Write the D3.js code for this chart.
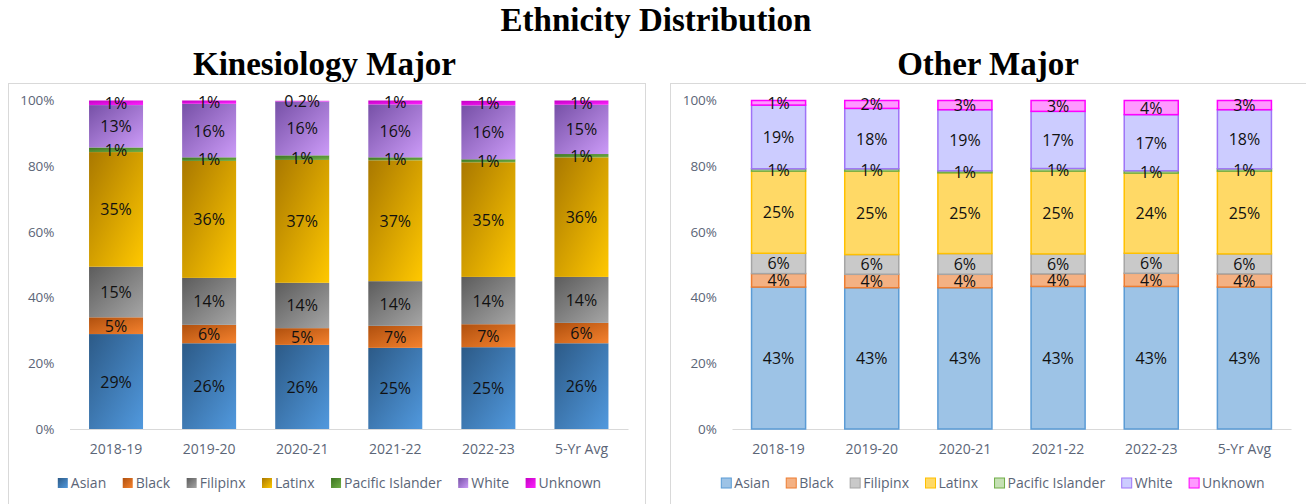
<!DOCTYPE html>
<html>
<head>
<meta charset="utf-8">
<script src="https://cdn.jsdelivr.net/npm/d3@7"></script>
<style>
  body { margin: 0; background: #fff; }
  svg { display: block; }
</style>
</head>
<body>
<div id="chart"></div>
<script>
// categories + series
const years = ["2018-19", "2019-20", "2020-21", "2021-22", "2022-23", "5-Yr Avg"];
const groups = ["Asian", "Black", "Filipinx", "Latinx", "Pacific Islander", "White", "Unknown"];
const yTicks = [0, 0.2, 0.4, 0.6, 0.8, 1];

// Kinesiology major, percent of students
const kinAsian    = [28.9, 26.1, 25.6, 24.7, 24.9, 26.1];
const kinBlack    = [5.1, 5.6, 5.1, 6.7, 7.0, 6.2];
const kinFilipinx = [15.4, 14.3, 13.8, 13.6, 14.4, 14.0];
const kinLatinx   = [34.9, 35.6, 37.4, 36.8, 34.9, 36.4];
const kinPacific  = [1.4, 1.1, 1.4, 0.9, 0.9, 1.0];
const kinWhite    = [12.9, 16.3, 16.4, 16.1, 16.4, 15.0];
const kinUnknown  = [1.4, 1.0, 0.2, 1.2, 1.4, 1.3];

// other majors, percent of students
const othAsian    = [43.2, 43.0, 43.0, 43.4, 43.4, 43.2];
const othBlack    = [4.1, 4.1, 4.1, 3.8, 4.0, 4.0];
const othFilipinx = [6.2, 6.0, 6.3, 6.1, 6.1, 6.1];
const othLatinx   = [25.0, 25.4, 24.6, 25.2, 24.4, 25.2];
const othPacific  = [0.7, 0.7, 0.6, 0.8, 0.7, 0.7];
const othWhite    = [19.4, 18.4, 18.6, 17.4, 17.1, 18.0];
const othUnknown  = [1.4, 2.4, 2.8, 3.3, 4.3, 2.8];

const width = 1306, height = 504;

// gradient ends for the left chart (dark top-left -> light bottom-right)
const gradDark  = ["#2c5a87", "#b0500e", "#5c5c5c", "#a97800", "#3b7420", "#7650a6", "#c400c4"];
const gradLight = ["#5199de", "#f5822e", "#a6a6a6", "#ffc800", "#72b048", "#cc9bf8", "#ff22ff"];
// flat fills for the right chart
const flatFill   = ["#9dc3e6", "#f4b183", "#c9c9c9", "#ffd966", "#c5e0b4", "#ccccff", "#ff99ff"];
const flatStroke = ["#5b9bd5", "#ed7d31", "#a5a5a5", "#ffc000", "#70ad47", "#9f73f7", "#ff00ff"];

const svg = d3.select("#chart").append("svg")
  .attr("width", width)
  .attr("height", height)
  .style("font-family", "'Open Sans', sans-serif");

const defs = svg.append("defs");
groups.forEach((g, i) => {
  const lg = defs.append("linearGradient")
    .attr("id", "grad-" + i)
    .attr("x1", 0).attr("y1", 0).attr("x2", 1).attr("y2", 1);
  lg.append("stop").attr("offset", "0%").attr("stop-color", gradDark[i]);
  lg.append("stop").attr("offset", "100%").attr("stop-color", gradLight[i]);
});

svg.append("text")
  .attr("x", 656).attr("y", 31)
  .attr("text-anchor", "middle")
  .style("font-family", "'Liberation Serif', serif")
  .style("font-weight", "bold")
  .style("font-size", "33px")
  .text("Ethnicity Distribution");

const pctFmt = v => v < 0.005 ? d3.format(".1%")(v) : d3.format(".0%")(v);

function buildRows(series) {
  return years.map((yr, i) => {
    const row = { year: yr };
    groups.forEach((g, j) => { row[g] = series[j][i] / 100; });
    return row;
  });
}

function drawPanel(opt) {
  const rows = buildRows(opt.series);
  const stack = d3.stack().keys(groups)(rows);

  const g = svg.append("g");

  // panel frame
  g.append("rect")
    .attr("x", opt.boxX + 0.5).attr("y", 83.5)
    .attr("width", opt.boxW).attr("height", 440)
    .attr("fill", "none")
    .attr("stroke", "#d9d9d9");

  g.append("text")
    .attr("x", opt.boxX + opt.boxW / 2 - 2).attr("y", 75)
    .attr("text-anchor", "middle")
    .style("font-family", "'Liberation Serif', serif")
    .style("font-weight", "bold")
    .style("font-size", "33px")
    .text(opt.title);

  const x = d3.scaleBand()
    .domain(years)
    .range([opt.plotX0, opt.plotX1])
    .paddingInner(0.42)
    .paddingOuter(0.21);

  const y = d3.scaleLinear().domain([0, 1]).range([429, 100.5]);

  // y axis labels only
  const yAxis = g.append("g")
    .attr("transform", `translate(${opt.plotX0},0)`)
    .call(d3.axisLeft(y).tickValues(yTicks).tickFormat(d3.format(".0%")).tickSize(0).tickPadding(15));
  yAxis.select(".domain").remove();
  yAxis.selectAll("text")
    .style("font-family", "'Open Sans', sans-serif")
    .style("font-size", "13.5px")
    .attr("fill", "#5b6577");

  // x axis with baseline
  const xAxis = g.append("g")
    .attr("transform", "translate(0,429)")
    .call(d3.axisBottom(x).tickSize(0).tickPadding(15));
  xAxis.select(".domain").attr("stroke", "#d9d9d9");
  xAxis.selectAll("text")
    .style("font-family", "'Open Sans', sans-serif")
    .style("font-size", "14px")
    .attr("fill", "#5b6577");

  const layers = g.append("g").selectAll("g")
    .data(stack)
    .join("g");

  layers.selectAll("rect")
    .data(d => d.map(p => ({ p, key: d.key, idx: d.index })))
    .join("rect")
    .attr("x", d => x(d.p.data.year))
    .attr("y", d => y(d.p[1]))
    .attr("width", x.bandwidth())
    .attr("height", d => y(d.p[0]) - y(d.p[1]))
    .attr("fill", d => opt.gradient ? `url(#grad-${d.idx})` : flatFill[d.idx])
    .attr("stroke", d => opt.gradient ? "none" : flatStroke[d.idx])
    .attr("stroke-width", 1.5);

  // data labels
  const labels = g.append("g");
  stack.forEach(layer => {
    layer.forEach(p => {
      labels.append("text")
        .attr("x", x(p.data.year) + x.bandwidth() / 2)
        .attr("y", y((p[0] + p[1]) / 2))
        .attr("text-anchor", "middle")
        .attr("dominant-baseline", "central")
        .style("font-size", "16px")
        .attr("fill", "#111")
        .text(pctFmt(p[1] - p[0]));
    });
  });

  // legend
  const leg = g.append("g");
  const items = leg.selectAll("g").data(groups).join("g");
  items.append("rect")
    .attr("width", 10).attr("height", 10)
    .attr("y", 478)
    .attr("fill", (d, i) => opt.gradient ? `url(#grad-${i})` : flatFill[i])
    .attr("stroke", (d, i) => opt.gradient ? "none" : flatStroke[i])
    .attr("stroke-width", 1);
  items.append("text")
    .attr("x", 13).attr("y", 488)
    .style("font-size", "14px")
    .attr("fill", "#5b6577")
    .text(d => d);
  let cx = 0;
  items.each(function () {
    const w = d3.select(this).select("text").node().getComputedTextLength();
    d3.select(this).attr("transform", `translate(${cx},0)`);
    cx += 13 + w + 16.5;
  });
  const total = cx - 16.5;
  leg.attr("transform", `translate(${opt.boxX + opt.boxW / 2 + 3 - total / 2},0)`);
}

drawPanel({
  title: "Kinesiology Major",
  boxX: 8, boxW: 637,
  plotX0: 69.5, plotX1: 628,
  gradient: true,
  series: [kinAsian, kinBlack, kinFilipinx, kinLatinx, kinPacific, kinWhite, kinUnknown]
});

drawPanel({
  title: "Other Major",
  boxX: 670, boxW: 640,
  plotX0: 732, plotX1: 1291,
  gradient: false,
  series: [othAsian, othBlack, othFilipinx, othLatinx, othPacific, othWhite, othUnknown]
});
</script>
</body>
</html>
